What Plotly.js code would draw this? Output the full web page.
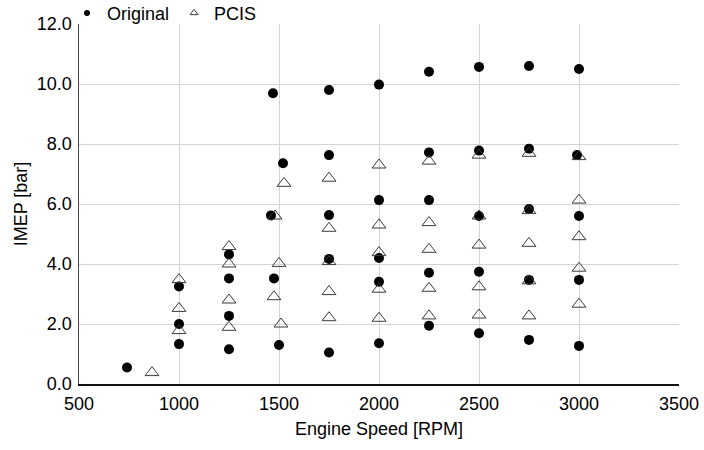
<!DOCTYPE html>
<html>
<head>
<meta charset="utf-8">
<script src="https://cdn.plot.ly/plotly-3.0.1.min.js"></script>
<style>html,body{margin:0;padding:0;background:#fff;}#chart{width:704px;height:450px;}</style>
</head>
<body>
<div id="chart"></div>
<script>
// Original (filled circles)
const originalSpeed = [740,
  1000, 1000, 1000,
  1250, 1250, 1250, 1250,
  1470, 1520, 1460, 1475, 1500,
  1750, 1750, 1750, 1750, 1750,
  2000, 2000, 2000, 2000, 2000,
  2250, 2250, 2250, 2250, 2250,
  2500, 2500, 2500, 2500, 2500,
  2750, 2750, 2750, 2750, 2750,
  3000, 2990, 3000, 3000, 3000];
const originalIMEP = [0.55,
  3.25, 2.0, 1.33,
  4.32, 3.52, 2.27, 1.16,
  9.69, 7.36, 5.62, 3.52, 1.30,
  9.80, 7.63, 5.63, 4.17, 1.05,
  9.98, 6.13, 4.20, 3.41, 1.36,
  10.41, 7.72, 6.13, 3.71, 1.94,
  10.57, 7.78, 5.60, 3.74, 1.69,
  10.60, 7.84, 5.83, 3.47, 1.47,
  10.50, 7.63, 5.60, 3.47, 1.27];
// PCIS (open triangles)
const pcisSpeed = [865,
  1000, 1000, 1000,
  1250, 1250, 1250, 1250,
  1525, 1480, 1500, 1475, 1510,
  1750, 1750, 1750, 1750, 1750,
  2000, 2000, 2000, 2000, 2000,
  2250, 2250, 2250, 2250, 2250,
  2500, 2500, 2500, 2500, 2500,
  2750, 2750, 2750, 2750, 2750,
  3000, 3000, 3000, 3000, 3000];
const pcisIMEP = [0.38,
  3.48, 2.52, 1.78,
  4.58, 4.00, 2.80, 1.89,
  6.69, 5.60, 4.02, 2.91, 2.00,
  6.86, 5.19, 4.08, 3.08, 2.21,
  7.30, 5.30, 4.38, 3.16, 2.19,
  7.43, 5.38, 4.49, 3.19, 2.27,
  7.63, 5.60, 4.63, 3.24, 2.30,
  7.69, 5.78, 4.69, 3.44, 2.27,
  7.58, 6.13, 4.91, 3.86, 2.66];

const FONT = 'Liberation Sans, Arial, sans-serif';

const traces = [
  {x: originalSpeed, y: originalIMEP, type: 'scatter', mode: 'markers', name: 'Original', showlegend: false,
   marker: {symbol: 'circle', size: 10, color: '#000'}},
  {x: pcisSpeed, y: pcisIMEP, type: 'scatter', mode: 'markers', name: 'PCIS', showlegend: false,
   marker: {symbol: 'triangle-up-open', size: 12, color: '#3a3a3a', line: {width: 1, color: '#3a3a3a'}}},
  {x: [null], y: [null], type: 'scatter', mode: 'markers', name: 'Original',
   marker: {symbol: 'circle', size: 6, color: '#000'}},
  {x: [null], y: [null], type: 'scatter', mode: 'markers', name: 'PCIS',
   marker: {symbol: 'triangle-up-open', size: 7, color: '#3a3a3a', line: {width: 1, color: '#3a3a3a'}}}
];

const layout = {
  width: 704, height: 450,
  margin: {l: 79, r: 25, t: 24, b: 66, autoexpand: false},
  paper_bgcolor: '#fff', plot_bgcolor: '#fff',
  font: {family: FONT, size: 18, color: '#000'},
  showlegend: true,
  legend: {orientation: 'h', x: -0.02, xanchor: 'left', y: 1.03, yanchor: 'middle',
           font: {family: FONT, size: 18, color: '#000'}, bgcolor: 'rgba(0,0,0,0)',
           itemwidth: 30, tracegroupgap: 0},
  xaxis: {range: [500, 3500], dtick: 500, tick0: 500, showgrid: true, gridcolor: '#d4d4d4', gridwidth: 1,
          zeroline: false, showline: true, linecolor: '#111', linewidth: 1.5,
          ticks: 'outside', ticklen: 3, tickcolor: 'rgba(0,0,0,0)',
          tickfont: {family: FONT, size: 18, color: '#000'},
          title: {text: 'Engine Speed [RPM]', standoff: 9, font: {family: FONT, size: 18, color: '#000'}}},
  yaxis: {range: [0, 12], dtick: 2, tick0: 0, tickformat: '.1f', showgrid: true, gridcolor: '#d4d4d4', gridwidth: 1,
          zeroline: false, showline: true, linecolor: '#444', linewidth: 1.5,
          ticks: 'outside', ticklen: 2, tickcolor: 'rgba(0,0,0,0)',
          tickfont: {family: FONT, size: 18, color: '#000'},
          title: {text: 'IMEP [bar]', standoff: 4, font: {family: FONT, size: 18, color: '#000'}}}
};

Plotly.newPlot('chart', traces, layout, {displayModeBar: false, staticPlot: true});
</script>
</body>
</html>
